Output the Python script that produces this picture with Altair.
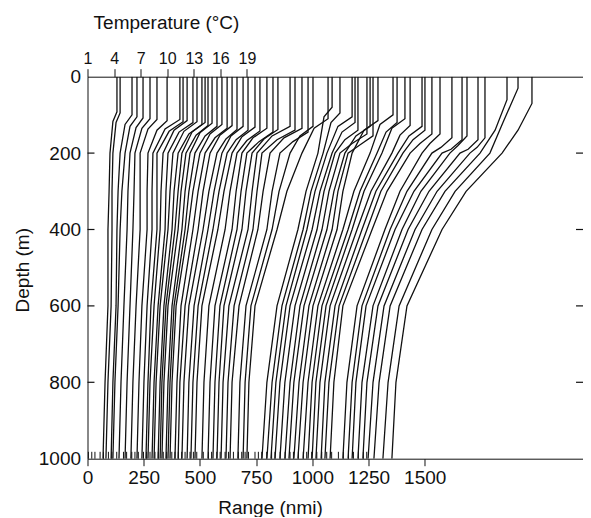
import altair as alt
import pandas as pd

# ---------------- data ----------------
# every profile: surface range, mixed-layer depth, end of the step (depth, range),
# then its range at 200, 300, 400, 600, 800 and 1000 m  (range in nmi)
surf = [131, 145, 198, 220, 247, 278, 309, 354, 411, 425, 443, 469, 487, 509, 523, 536, 554, 576, 598, 621,
        643, 665, 692, 714, 745, 767, 798, 825, 847, 901, 923, 954, 981, 1003, 1070,
        1088, 1123, 1177, 1190, 1203, 1243, 1257, 1270, 1292, 1359, 1377, 1412, 1435, 1488, 1501, 1532,
        1568, 1621, 1666, 1688, 1737, 1768, 1866, 1915, 1977]
mld = [92, 95, 100, 105, 108, 110, 112, 115, 112, 118, 115, 120, 118, 125, 120, 128, 122, 130, 125, 135,
       128, 138, 130, 140, 132, 142, 135, 145, 138, 130, 140, 135, 145, 130, 110,
       80, 95, 105, 120, 140, 150, 130, 155, 115, 100, 120, 110, 128, 130, 140, 150,
       150, 160, 165, 155, 165, 160, 60, 30, 70]
step_d = [117, 120, 125, 130, 133, 135, 137, 140, 137, 143, 140, 145, 143, 150, 145, 153, 147, 155, 150, 160,
          153, 163, 155, 165, 157, 167, 160, 170, 163, 155, 165, 160, 170, 155, 135,
          105, 120, 130, 145, 165, 175, 155, 180, 140, 125, 145, 135, 153, 155, 165, 175,
          175, 185, 190, 180, 190, 185, 140, 120, 140]
step_r = [113, 127, 167, 189, 216, 242, 269, 309, 345, 363, 385, 407, 429, 451, 465, 483, 500, 523, 545, 567,
          589, 616, 638, 661, 687, 709, 736, 763, 785, 821, 843, 874, 914, 945, 1008,
          1052, 1083, 1114, 1132, 1145, 1177, 1194, 1208, 1230, 1301, 1328, 1354, 1390, 1430, 1448, 1479,
          1523, 1572, 1617, 1648, 1693, 1733, 1813, 1848, 1915]
r200 = [100, 113, 145, 167, 189, 211, 234, 269, 291, 309, 336, 358, 380, 403, 420, 438, 456, 478, 500, 523,
        545, 576, 598, 621, 643, 665, 687, 709, 732, 754, 776, 812, 856, 901, 954,
        1025, 1048, 1065, 1088, 1101, 1123, 1145, 1159, 1177, 1257, 1288, 1310, 1354, 1381, 1403, 1435,
        1488, 1532, 1577, 1612, 1657, 1701, 1746, 1790, 1844]
r300 = [96, 109, 136, 153, 180, 207, 234, 265, 287, 309, 327, 349, 367, 385, 403, 416, 434, 451, 469, 492,
        514, 540, 563, 585, 607, 634, 661, 683, 705, 732, 754, 781, 821, 852, 887,
        972, 994, 1012, 1034, 1052, 1074, 1096, 1114, 1136, 1185, 1212, 1230, 1261, 1283, 1305, 1332,
        1390, 1421, 1452, 1483, 1519, 1555, 1590, 1635, 1684]
r400 = [91, 109, 131, 145, 176, 202, 234, 265, 287, 309, 323, 345, 358, 376, 389, 403, 420, 434, 447, 469,
        492, 514, 536, 558, 580, 612, 643, 665, 687, 714, 736, 758, 798, 821, 843,
        936, 959, 976, 999, 1021, 1043, 1065, 1088, 1110, 1136, 1159, 1177, 1199, 1221, 1243, 1266,
        1323, 1346, 1368, 1399, 1426, 1457, 1488, 1532, 1577]
r600 = [91, 105, 127, 136, 162, 189, 216, 242, 265, 282, 296, 314, 323, 340, 349, 358, 376, 385, 394, 416,
        434, 451, 474, 492, 509, 540, 567, 589, 607, 629, 652, 674, 705, 727, 745,
        843, 865, 883, 901, 923, 945, 963, 985, 1003, 1025, 1043, 1061, 1079, 1101, 1119, 1136,
        1199, 1221, 1239, 1270, 1292, 1319, 1346, 1386, 1421]
r800 = [78, 91, 113, 122, 149, 176, 202, 229, 251, 269, 278, 296, 305, 323, 331, 340, 358, 367, 376, 398,
        411, 429, 451, 469, 487, 518, 545, 567, 585, 603, 625, 643, 678, 701, 718,
        798, 821, 838, 856, 878, 901, 918, 941, 959, 981, 999, 1016, 1034, 1056, 1074, 1096,
        1154, 1177, 1194, 1221, 1243, 1270, 1297, 1337, 1372]
r1000 = [69, 82, 105, 113, 140, 167, 193, 220, 242, 260, 269, 287, 296, 314, 323, 331, 349, 358, 367, 389,
         403, 420, 443, 460, 478, 509, 536, 558, 576, 594, 616, 634, 669, 692, 709,
         776, 798, 816, 834, 856, 878, 896, 918, 936, 959, 981, 999, 1016, 1039, 1056, 1079,
         1136, 1159, 1177, 1203, 1225, 1248, 1274, 1314, 1354]

# station positions (short ticks along the bottom), nmi
stations = [4, 19, 33, 56, 71, 93, 108, 130, 160, 174, 197, 211, 226, 249, 263, 278, 300, 315, 337, 352,
            375, 389, 404, 419, 434, 456, 471, 486, 515, 538, 552, 575, 590, 612, 627, 649, 671, 686, 701,
            716, 745, 760, 775, 797, 819, 834, 857, 879, 901, 916, 938, 960, 975, 997, 1020, 1042, 1064,
            1086, 1116, 1138, 1161, 1183, 1205, 1227, 1242]

range_ticks = [0, 250, 500, 750, 1000, 1250, 1500]
depth_ticks = [0, 200, 400, 600, 800, 1000]
inner_ticks = [200, 400, 600, 800]
temp_ticks = [1, 4, 7, 10, 13, 16, 19]

NMI_PER_DEG = 39.4      # horizontal scale of the temperature axis
XMAX = 2204             # right edge of the plot, nmi
TICK_LEN = 31           # inward tick length, nmi
STATION_TOP = 982       # station ticks reach up to this depth

# ---------------- tables ----------------
rows = []
for i in range(len(surf)):
    pts = [(0, surf[i]), (mld[i], surf[i]), (step_d[i], step_r[i]), (200, r200[i]), (300, r300[i]),
           (400, r400[i]), (600, r600[i]), (800, r800[i]), (1000, r1000[i])]
    for k, (d, r) in enumerate(pts):
        rows.append({"profile": i, "k": k, "depth": d, "range": r})
prof = pd.DataFrame(rows)
st = pd.DataFrame({"range": stations, "d0": STATION_TOP, "d1": 1000})
frame_t = pd.DataFrame({
    "depth": inner_ticks + inner_ticks,
    "a": [0.0] * len(inner_ticks) + [float(XMAX - TICK_LEN)] * len(inner_ticks),
    "b": [float(TICK_LEN)] * len(inner_ticks) + [float(XMAX)] * len(inner_ticks),
})
temps = pd.DataFrame({"t": temp_ticks})

FONT = "Liberation Sans"
INK = "#111111"
W, H = 495.5, 382

xs = alt.Scale(domain=[0, XMAX], nice=False, zero=False)
ys = alt.Scale(domain=[0, 1000], reverse=True, nice=False, zero=False)

x_axis = alt.Axis(values=range_ticks, format="d", title="Range (nmi)", orient="bottom", tickSize=7,
                  labelFlush=False, labelOverlap=False, labelFontSize=19, labelPadding=3, titleFontSize=19,
                  titleX=182.5, titleY=49, titleAlign="center", titleBaseline="middle", grid=False)
y_axis = alt.Axis(values=depth_ticks, format="d", title="Depth (m)", tickSize=0, labelPadding=7,
                  labelFontSize=19, labelFlush=False, labelOverlap=False, titleFontSize=19, titleX=-65.5,
                  titleY=193, titleAlign="center", titleBaseline="middle", grid=False)
t_axis = alt.Axis(values=temp_ticks, format="d", title="Temperature (°C)", orient="top", tickSize=8,
                  labelPadding=2, labelFontSize=16, labelFlush=False, labelOverlap=False, titleFontSize=19,
                  titleX=78.5, titleY=-54, titleAlign="center", titleBaseline="middle", grid=False)

Y = alt.Y("depth:Q", scale=ys, axis=y_axis)

lines = alt.Chart(prof).mark_line(color=INK, strokeWidth=1.3, clip=True).encode(
    x=alt.X("range:Q", scale=xs, axis=x_axis), y=Y, detail="profile:N", order="k:Q",
)
station_marks = alt.Chart(st).mark_rule(color=INK, strokeWidth=1).encode(
    x=alt.X("range:Q", scale=xs, axis=x_axis), y=alt.Y("d0:Q", scale=ys, axis=y_axis), y2="d1:Q",
)
frame_ticks = alt.Chart(frame_t).mark_rule(color=INK, strokeWidth=1.2).encode(
    x=alt.X("a:Q", scale=xs, axis=x_axis), x2="b:Q", y=Y,
)

inner = alt.layer(lines, station_marks, frame_ticks)

top = alt.Chart(temps).mark_point(opacity=0).encode(
    x=alt.X("t:Q", scale=alt.Scale(domain=[1, 1 + XMAX / NMI_PER_DEG], nice=False, zero=False), axis=t_axis)
)

chart = alt.layer(inner, top).resolve_scale(x="independent").properties(
    width=W, height=H,
    autosize=alt.AutoSizeParams(type="none"),
    padding={"left": 79.5, "top": 68.7, "right": 0, "bottom": 58},
    background="white",
).configure_view(stroke=None).configure_axis(
    labelFont=FONT, titleFont=FONT, labelColor=INK, titleColor=INK, tickColor=INK, domainColor=INK,
    titleFontWeight="normal", domainWidth=1, tickWidth=1,
)

chart.save("out.html", embed_options={"renderer": "svg", "actions": False})
